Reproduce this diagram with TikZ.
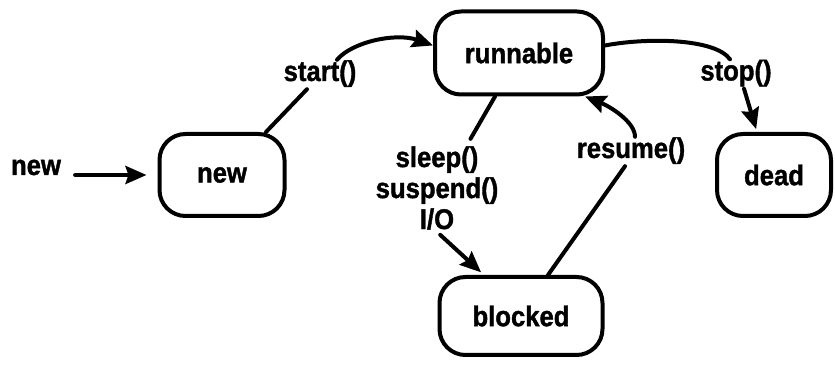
\documentclass[tikz,border=0pt]{standalone}
\usepackage{fontspec}
\setmainfont{Liberation Sans}
\newfontfamily\labelfont{Liberation Sans}[BoldFeatures={FakeStretch=0.9,FakeBold=1.3}]
\usetikzlibrary{arrows.meta}
\begin{document}
\begin{tikzpicture}[x=1pt,y=1pt,
  every node/.style={font=\labelfont\fontsize{28.5}{31}\selectfont\bfseries},
  state/.style={draw, line width=4pt, rounded corners=26pt, align=center},
  lbl/.style={inner sep=3pt, text height=18pt, text depth=5pt},
  wire/.style={line width=4pt, line cap=round},
  arr/.style={wire, -{Stealth[length=21pt,width=18pt,inset=3pt]}}
]
\useasboundingbox (0,0) rectangle (835,366);

% states
\node[state, minimum width=125pt, minimum height=82pt] (newst) at (222,191) {new};
\node[state, minimum width=168pt, minimum height=83pt] (run)   at (519,313) {runnable};
\node[state, minimum width=163pt, minimum height=78pt] (blk)   at (521,50)  {blocked};
\node[state, minimum width=114pt, minimum height=82pt] (dead)  at (774,191) {dead};

% transition labels
\node[lbl] (newlbl)    at (36,197.5)  {new};
\node[lbl] (startlbl)  at (320,291.5) {start()};
\node[lbl] (stoplbl)   at (736,292)   {stop()};
\node[lbl] (resumelbl) at (631,214.5) {resume()};
\node[align=center, inner sep=3pt] (sleeplbl) at (437,178) {sleep()\\suspend()\\I/O};

% creation
\draw[arr, shorten <=11pt, shorten >=11pt] (newlbl.east |- newst.west) -- (newst.west);

% new -> runnable
\draw[wire] ([xshift=44pt]newst.north) -- ([xshift=-13pt]startlbl.south);
\draw[arr] ([xshift=17pt]startlbl.north) .. controls +(15,18) and +(-37,13) .. (run.175);

% runnable -> dead
\draw[wire] (run.5) .. controls +(42,8) and +(-15,21) .. ([xshift=-6pt]stoplbl.north);
\draw[arr, shorten >=3pt] ([xshift=8pt]stoplbl.south) -- ([xshift=-17pt]dead.north);

% runnable -> blocked
\draw[wire, shorten >=5pt] ([xshift=-24pt]run.south) -- ([xshift=31pt]sleeplbl.north);
\draw[arr, shorten <=3pt, shorten >=4pt] ([xshift=1pt]sleeplbl.south) -- ([xshift=-37pt]blk.north);

% blocked -> runnable
\draw[wire] ([xshift=27pt]blk.north) -- ([xshift=-6pt]resumelbl.south);
\draw[arr] ([xshift=4pt]resumelbl.north) .. controls +(0,15) and +(25,-10) .. ([xshift=66pt]run.south);
\end{tikzpicture}
\end{document}
